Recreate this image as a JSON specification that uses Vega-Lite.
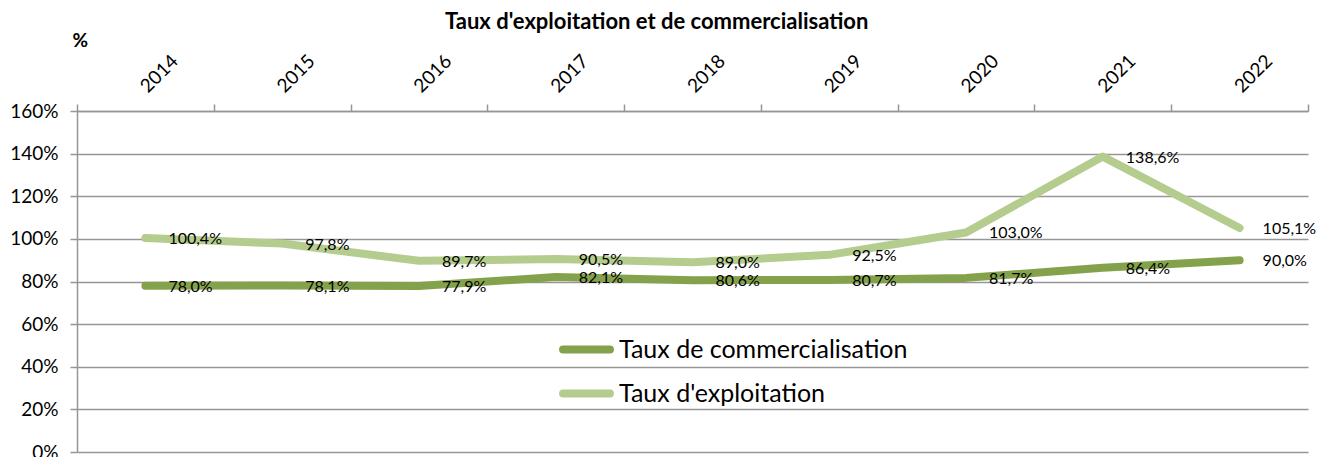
{
  "$schema": "https://vega.github.io/schema/vega-lite/v6.json",
  "width": 1231,
  "height": 341,
  "autosize": {"type": "none"},
  "padding": {"left": 77, "top": 111, "right": 12, "bottom": 5},
  "background": "white",
  "title": {
    "text": "Taux d'exploitation et de commercialisation",
    "anchor": "start",
    "frame": "group",
    "dx": 368,
    "font": "Lato",
    "fontSize": 22,
    "fontWeight": "bold",
    "color": "black",
    "offset": -3
  },
  "config": {
    "locale": {"number": {"decimal": ",", "thousands": " ", "grouping": [3], "currency": ["", " €"]}},
    "view": {"stroke": null},
    "font": "Lato"
  },
  "data": {
    "values": [
      {"annee": "2014", "serie": "Taux d'exploitation", "valeur": 1.004},
      {"annee": "2015", "serie": "Taux d'exploitation", "valeur": 0.978},
      {"annee": "2016", "serie": "Taux d'exploitation", "valeur": 0.897},
      {"annee": "2017", "serie": "Taux d'exploitation", "valeur": 0.905},
      {"annee": "2018", "serie": "Taux d'exploitation", "valeur": 0.890},
      {"annee": "2019", "serie": "Taux d'exploitation", "valeur": 0.925},
      {"annee": "2020", "serie": "Taux d'exploitation", "valeur": 1.030},
      {"annee": "2021", "serie": "Taux d'exploitation", "valeur": 1.386},
      {"annee": "2022", "serie": "Taux d'exploitation", "valeur": 1.051},
      {"annee": "2014", "serie": "Taux de commercialisation", "valeur": 0.780},
      {"annee": "2015", "serie": "Taux de commercialisation", "valeur": 0.781},
      {"annee": "2016", "serie": "Taux de commercialisation", "valeur": 0.779},
      {"annee": "2017", "serie": "Taux de commercialisation", "valeur": 0.821},
      {"annee": "2018", "serie": "Taux de commercialisation", "valeur": 0.806},
      {"annee": "2019", "serie": "Taux de commercialisation", "valeur": 0.807},
      {"annee": "2020", "serie": "Taux de commercialisation", "valeur": 0.817},
      {"annee": "2021", "serie": "Taux de commercialisation", "valeur": 0.864},
      {"annee": "2022", "serie": "Taux de commercialisation", "valeur": 0.900}
    ]
  },
  "encoding": {
    "x": {
      "field": "annee",
      "type": "ordinal",
      "scale": {"type": "band", "paddingInner": 0, "paddingOuter": 0},
      "axis": {
        "orient": "top",
        "title": null,
        "labelAngle": -45,
        "labelFont": "Lato",
        "labelFontSize": 19,
        "labelColor": "black",
        "labelPadding": 8,
        "labelOffset": 5,
        "tickBand": "extent",
        "tickSize": 7,
        "tickColor": "#969696",
        "tickWidth": 1.5,
        "domain": true,
        "domainColor": "#969696",
        "domainWidth": 1.5,
        "grid": false
      }
    },
    "y": {
      "field": "valeur",
      "type": "quantitative",
      "scale": {"domain": [0, 1.6], "nice": false},
      "axis": {
        "values": [0, 0.2, 0.4, 0.6, 0.8, 1.0, 1.2, 1.4, 1.6],
        "format": ".0%",
        "title": "%",
        "titleAngle": 0,
        "titleX": -5,
        "titleY": -71,
        "titleAlign": "left",
        "titleBaseline": "middle",
        "titleFont": "Lato",
        "titleFontSize": 19,
        "titleFontWeight": "bold",
        "titleColor": "black",
        "labelFont": "Lato",
        "labelFontSize": 19,
        "labelColor": "black",
        "labelPadding": 12,
        "tickSize": 7,
        "tickColor": "#969696",
        "tickWidth": 1.5,
        "domainColor": "#969696",
        "domainWidth": 1.5,
        "grid": true,
        "gridColor": "#969696",
        "gridWidth": 1.5
      }
    }
  },
  "layer": [
    {
      "mark": {"type": "line", "strokeWidth": 8, "strokeCap": "round", "strokeJoin": "round"},
      "encoding": {
        "color": {
          "field": "serie",
          "type": "nominal",
          "scale": {"domain": ["Taux de commercialisation", "Taux d'exploitation"], "range": ["#84a24b", "#b5cc8f"]},
          "legend": {
            "title": null,
            "orient": "none",
            "legendX": 482,
            "legendY": 211,
            "symbolType": "stroke",
            "symbolSize": 2200,
            "symbolStrokeWidth": 8,
            "labelFont": "Lato",
            "labelFontSize": 25,
            "labelColor": "black",
            "labelOffset": 5,
            "labelLimit": 0,
            "rowPadding": 0,
            "encode": {"symbols": {"update": {"strokeCap": {"value": "round"}}}}
          }
        }
      }
    },
    {
      "mark": {"type": "text", "align": "left", "baseline": "middle", "dx": 23, "dy": 1, "font": "Lato", "fontSize": 16, "color": "black"},
      "encoding": {
        "text": {"field": "valeur", "type": "quantitative", "format": ".1%"}
      }
    }
  ]
}
